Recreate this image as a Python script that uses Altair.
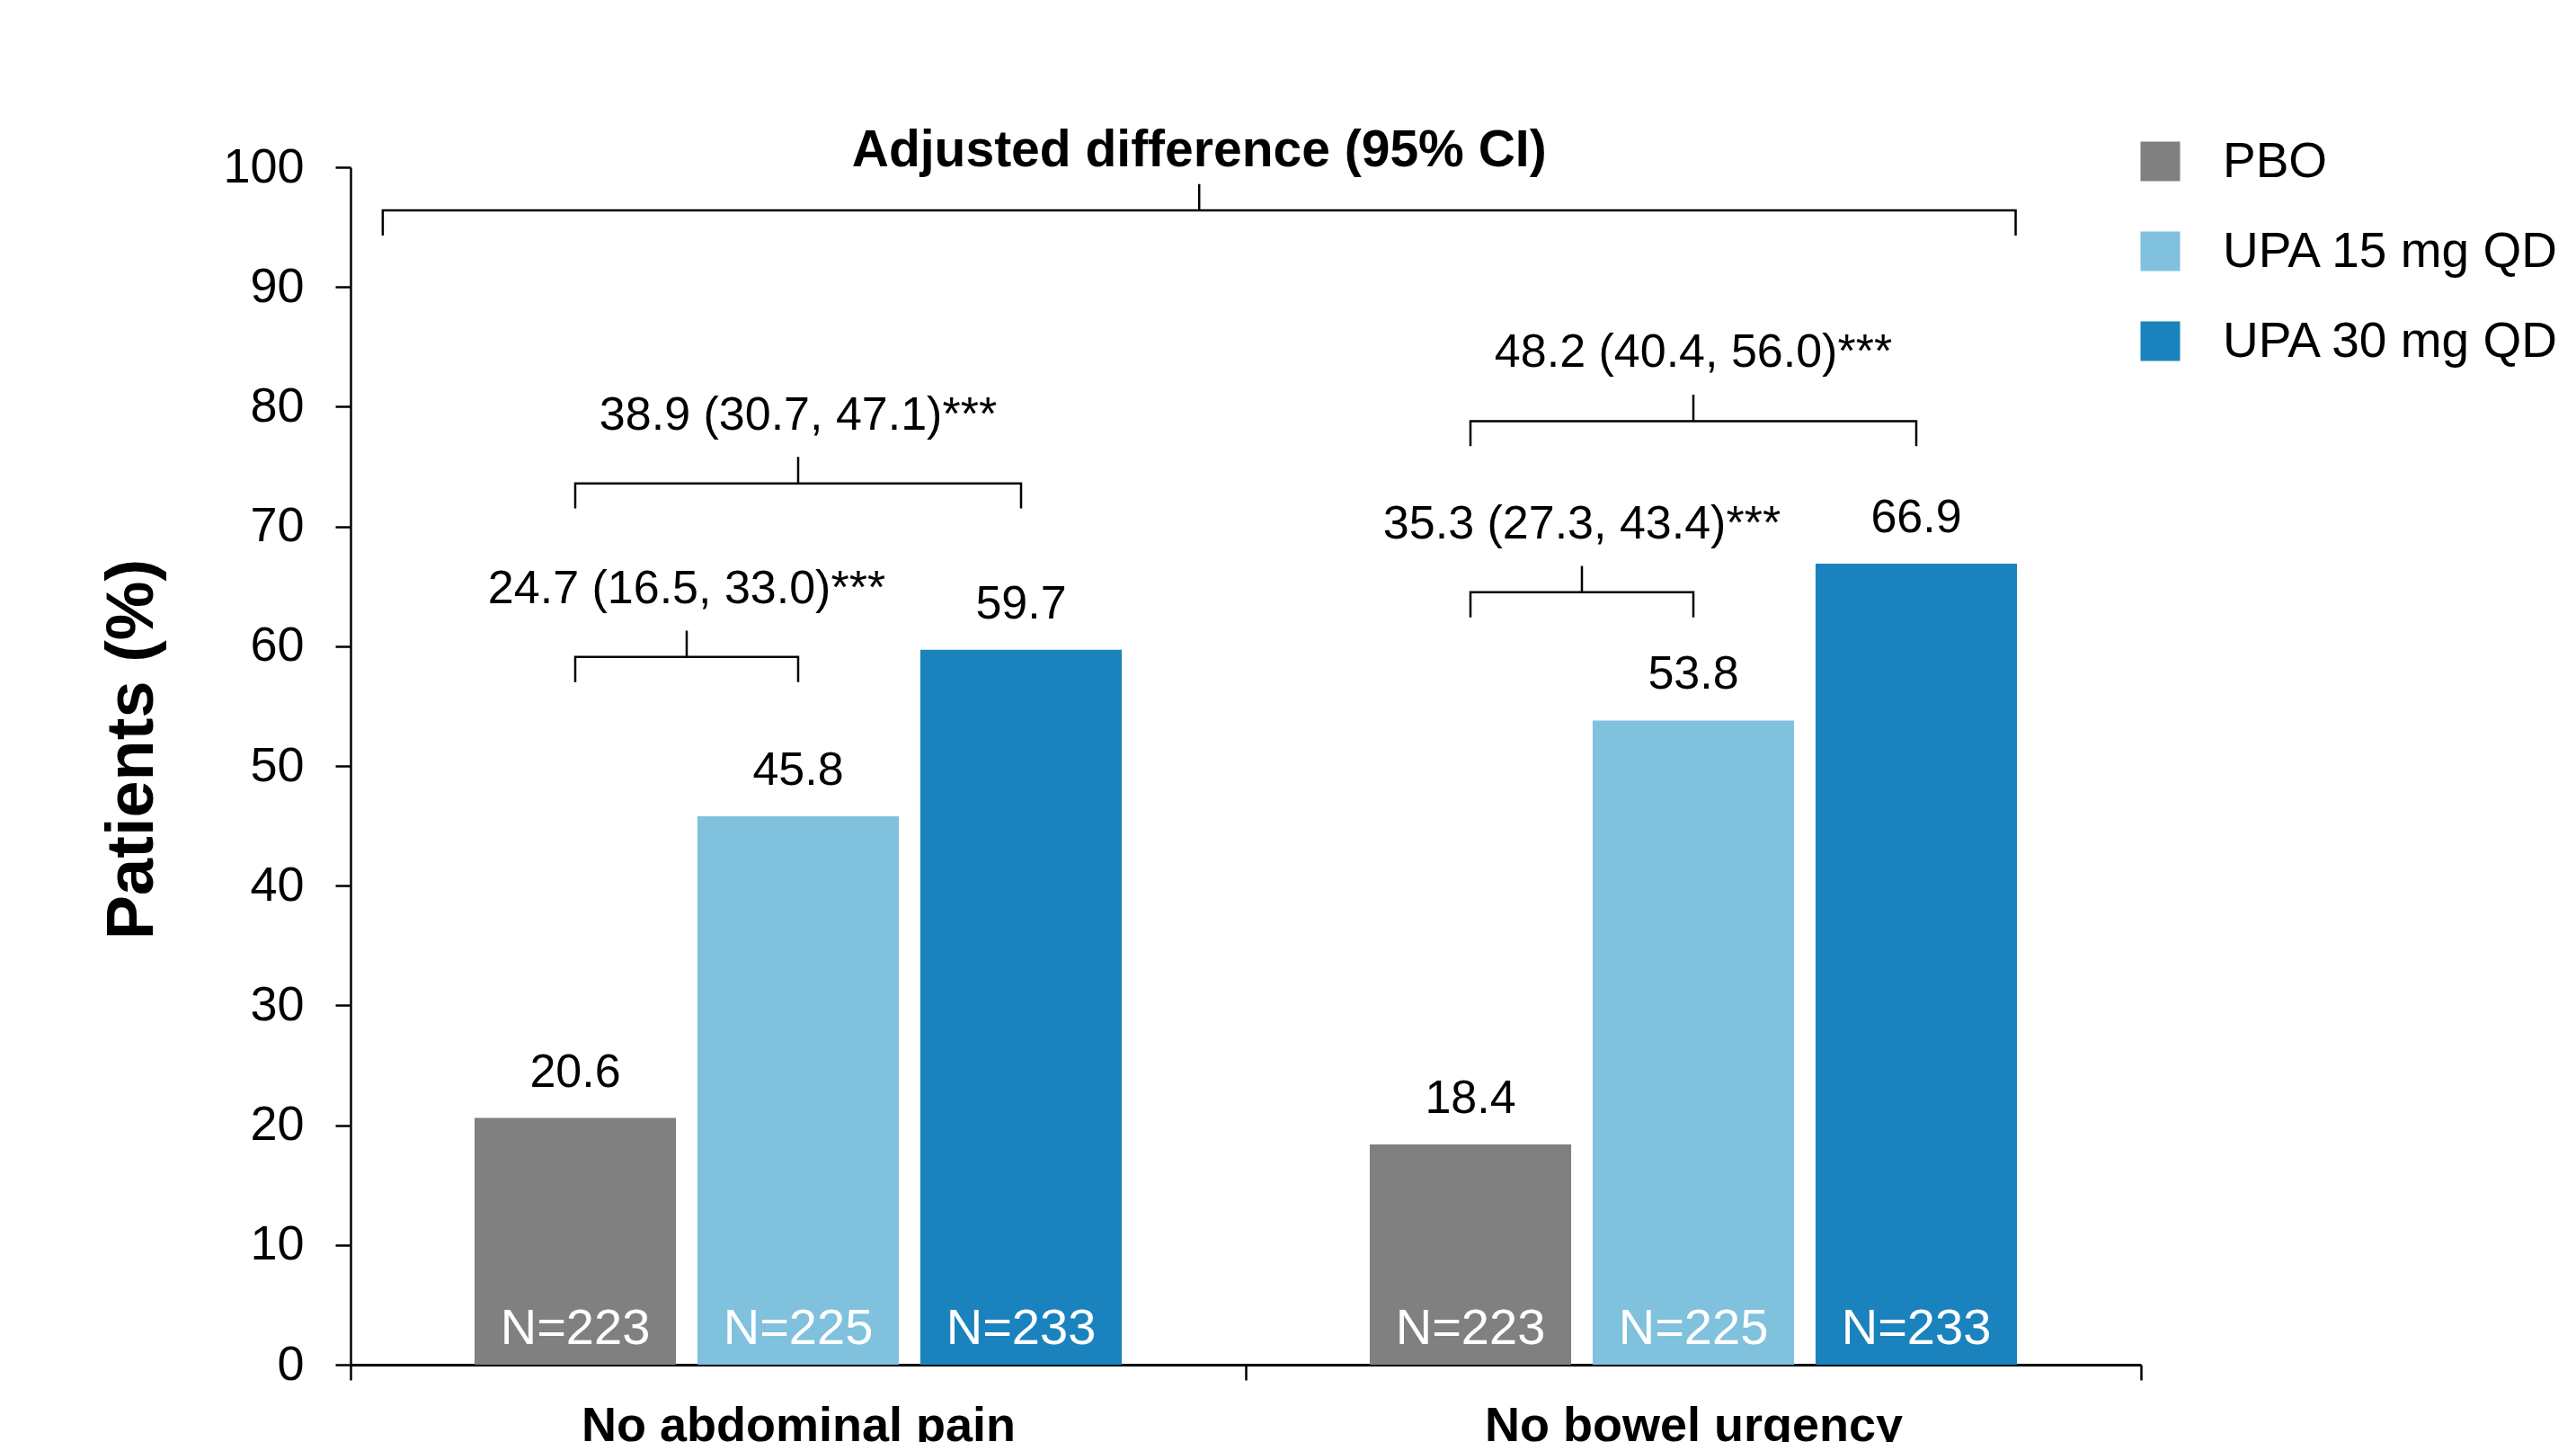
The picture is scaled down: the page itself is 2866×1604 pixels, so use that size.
import altair as alt
import pandas as pd

# ---------------- data ----------------
categories = ["No abdominal pain", "No bowel urgency"]
treatments = ["PBO", "UPA 15 mg QD", "UPA 30 mg QD"]
colors = ["#808080", "#80C1DD", "#1A83BD"]
pct_abdominal_pain = [20.6, 45.8, 59.7]
pct_bowel_urgency = [18.4, 53.8, 66.9]
n_per_arm = [223, 225, 233]

# pairwise comparisons (category index, from arm, to arm)
cmp_category = [0, 0, 1, 1]
cmp_from = [0, 0, 0, 0]
cmp_to = [1, 2, 1, 2]
cmp_labels = [
    "24.7 (16.5, 33.0)***",
    "38.9 (30.7, 47.1)***",
    "35.3 (27.3, 43.4)***",
    "48.2 (40.4, 56.0)***",
]
cmp_level = [59.1, 73.6, 64.5, 78.8]

overall_label = "Adjusted difference (95% CI)"
overall_level = 96.4
overall_span = [0.036, 0.948, 1.86]  # left, peak, right (x units)

# ---------------- layout helpers ----------------
BAR_STEP = 0.249
BAR_HALF = 0.1125
DROP = 2.1
RISE = 2.2
FONT = "Liberation Sans"


def center(ci, ti):
    return ci + 0.5 + (ti - 1) * BAR_STEP


bar_rows = []
for ci, vals in enumerate([pct_abdominal_pain, pct_bowel_urgency]):
    for ti, v in enumerate(vals):
        xc = center(ci, ti)
        bar_rows.append(dict(cat=categories[ci], trt=treatments[ti], value=v,
                             x0=xc - BAR_HALF, x1=xc + BAR_HALF, xc=xc,
                             base=0, nlabel=f"N={n_per_arm[ti]}"))
bars_df = pd.DataFrame(bar_rows)

line_rows = []
text_rows = []
for b, (ci, fa, tb, lab, lev) in enumerate(zip(cmp_category, cmp_from, cmp_to, cmp_labels, cmp_level)):
    xa, xb = center(ci, fa), center(ci, tb)
    xm = (xa + xb) / 2
    pts = [(xa, lev - DROP), (xa, lev), (xm, lev), (xm, lev + RISE), (xm, lev), (xb, lev), (xb, lev - DROP)]
    for k, (px, py) in enumerate(pts):
        line_rows.append(dict(bid=b, k=k, x=px, y=py))
    text_rows.append(dict(x=xm, y=lev, label=lab))

xl, xm, xr = overall_span
pts = [(xl, overall_level - DROP), (xl, overall_level), (xm, overall_level), (xm, overall_level + RISE),
       (xm, overall_level), (xr, overall_level), (xr, overall_level - DROP)]
for k, (px, py) in enumerate(pts):
    line_rows.append(dict(bid=99, k=k, x=px, y=py))
lines_df = pd.DataFrame(line_rows)
texts_df = pd.DataFrame(text_rows)
title_df = pd.DataFrame([dict(x=xm, y=overall_level, label=overall_label)])

# ---------------- scales / axes ----------------
xscale = alt.Scale(domain=[0, 2], nice=False, zero=False)
yscale = alt.Scale(domain=[0, 100], nice=False)

label_expr = " : ".join(
    [f"datum.value == {i + 0.5} ? '{c}'" for i, c in enumerate(categories)]) + " : ''"

xaxis = alt.Axis(
    values=[0, 0.5, 1, 1.5, 2], labelExpr=label_expr, title=None, grid=False,
    tickSize=17, tickWidth=2.5, tickColor="black",
    tickOpacity={"condition": {"test": "datum.value % 1 !== 0", "value": 0}, "value": 1},
    domainColor="black", domainWidth=3,
    labelFont=FONT, labelFontSize=54, labelFontWeight="bold", labelColor="black",
    labelPadding=24, labelFlush=False, labelOverlap=False, labelBound=False,
    labelBaseline="top", labelLimit=0,
)
yaxis = alt.Axis(
    values=list(range(0, 101, 10)), title="Patients (%)", grid=False,
    tickSize=17, tickWidth=2.5, tickColor="black",
    domainColor="black", domainWidth=2.5,
    labelFont=FONT, labelFontSize=54, labelColor="black", labelPadding=35,
    titleFont=FONT, titleFontSize=74, titleFontWeight="bold", titleColor="black",
    titleX=-205, titleY=647, titleLimit=0,
)


def X(field):
    return alt.X(field, type="quantitative", scale=xscale, axis=xaxis)


def Y(field):
    return alt.Y(field, type="quantitative", scale=yscale, axis=yaxis)


bars = alt.Chart(bars_df).mark_bar().encode(
    x=X("x0"), x2="x1", y=Y("value"), y2="base",
    color=alt.Color("trt:N", sort=treatments,
                    scale=alt.Scale(domain=treatments, range=colors),
                    legend=alt.Legend(orient="none", legendX=1986, legendY=-34, title=None,
                                      symbolType="square", symbolSize=1936, symbolStrokeWidth=0,
                                      symbolOpacity=1, labelFont=FONT, labelFontSize=55,
                                      labelColor="black", labelOffset=42, rowPadding=44,
                                      padding=0, labelLimit=0)),
)

value_text = alt.Chart(bars_df).mark_text(
    font=FONT, fontSize=52, baseline="alphabetic", dy=-35, color="black"
).encode(x=X("xc"), y=Y("value"), text=alt.Text("value:Q", format=".1f"))

n_text = alt.Chart(bars_df).mark_text(
    font=FONT, fontSize=56, baseline="alphabetic", dy=-23, color="white"
).encode(x=X("xc"), y=Y("base"), text="nlabel:N")

brackets = alt.Chart(lines_df).mark_line(color="black", strokeWidth=2.5).encode(
    x=X("x"), y=Y("y"), detail="bid:N", order="k:Q"
)

cmp_text = alt.Chart(texts_df).mark_text(
    font=FONT, fontSize=52, baseline="alphabetic", dy=-60, color="black"
).encode(x=X("x"), y=Y("y"), text="label:N")

title_text = alt.Chart(title_df).mark_text(
    font=FONT, fontSize=57, fontWeight="bold", baseline="alphabetic", dy=-49, color="black"
).encode(x=X("x"), y=Y("y"), text="label:N")

chart = alt.layer(bars, value_text, n_text, brackets, cmp_text, title_text).properties(
    width=1992, height=1332,
    autosize=alt.AutoSizeParams(type="none"),
    padding={"left": 382, "top": 178, "right": 470, "bottom": 86},
    background="white",
).configure_view(stroke=None)

chart.save("out.html", embed_options={"renderer": "svg", "actions": False})
